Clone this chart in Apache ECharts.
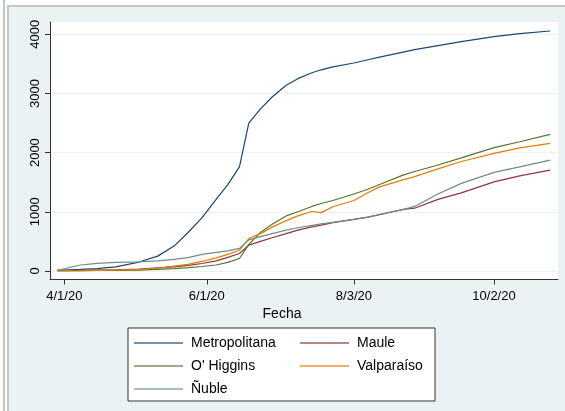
<!DOCTYPE html>
<html><head><meta charset="utf-8">
<script src="https://cdn.jsdelivr.net/npm/echarts@6/dist/echarts.min.js"></script>
<style>html,body{margin:0;padding:0;background:#fff}#c{width:565px;height:411px}</style>
</head><body><div id="c"></div><script>
// ---- data ----
const dates = ['2020-03-29','2020-04-08','2020-04-15','2020-04-23','2020-05-03','2020-05-11','2020-05-18','2020-05-24','2020-05-30','2020-06-05','2020-06-10','2020-06-15','2020-06-19','2020-06-24','2020-06-29','2020-07-05','2020-07-10','2020-07-16','2020-07-20','2020-07-25','2020-08-03','2020-08-09','2020-08-14','2020-08-24','2020-08-29','2020-09-08','2020-09-18','2020-10-02','2020-10-13','2020-10-26'];
const metropolitana = [10,25,40,68,150,250,420,650,900,1210,1460,1760,2500,2740,2940,3140,3250,3350,3400,3450,3515,3570,3615,3700,3740,3810,3875,3960,4010,4056];
const maule = [5,8,12,18,29,50,68,95,125,170,230,294,435,500,560,630,690,745,775,815,870,910,950,1040,1060,1210,1320,1506,1607,1704];
const ohiggins = [3,5,8,10,12,25,40,55,75,100,145,210,450,650,790,930,1000,1090,1140,1190,1300,1380,1460,1620,1680,1790,1910,2085,2183,2308];
const valparaiso = [3,5,10,15,25,45,80,110,160,220,280,350,548,630,740,850,930,1005,985,1085,1190,1320,1421,1540,1595,1725,1850,1986,2081,2156];
const nuble = [12,100,128,145,152,170,195,225,280,315,340,380,525,580,630,690,730,770,795,820,870,910,955,1035,1090,1300,1480,1665,1760,1873];
const seriesNames = ['Metropolitana','Maule',"O' Higgins",'Valparaíso','Ñuble'];
const xTickDates = ['2020-04-01','2020-06-01','2020-08-03','2020-10-02'];
const xTickLabels = ['4/1/20','6/1/20','8/3/20','10/2/20'];
const yTicks = [0,1000,2000,3000,4000];

// ---- helpers ----
function dayOf(s){ const p=s.split('-').map(Number); return (Date.UTC(p[0],p[1]-1,p[2]) - Date.UTC(2020,3,1))/864e5; }
const xTickDays = xTickDates.map(dayOf);
const colors = ['#1A476F','#90353B','#55752F','#E37E00','#6E8E84'];
const valuesList = [metropolitana, maule, ohiggins, valparaiso, nuble];
const FONT = "'Liberation Sans', Arial, sans-serif";
const col2 = new Set(['Maule','Valparaíso']);

const chart = echarts.init(document.getElementById('c'), null, {renderer:'canvas'});
chart.setOption({
  animation:false,
  backgroundColor:'#EAF2F3',
  textStyle:{fontFamily:FONT},
  graphic:[
    {type:'rect', shape:{x:0,y:0,width:7,height:411}, style:{fill:'#ffffff'}, silent:true},
    {type:'rect', shape:{x:0,y:0,width:565,height:5}, style:{fill:'#ffffff'}, silent:true},
    {type:'rect', shape:{x:3,y:0,width:2,height:411}, style:{fill:'#c6c6c6'}, silent:true},
    {type:'rect', shape:{x:7,y:5,width:2,height:406}, style:{fill:'#c6c6c6'}, silent:true},
    {type:'rect', shape:{x:7,y:5,width:558,height:2}, style:{fill:'#c6c6c6'}, silent:true}
  ],
  grid:{left:50,right:7,top:22,bottom:131.5,show:true,backgroundColor:'#ffffff',borderWidth:0,containLabel:false},
  xAxis:{
    type:'value', min:-6.12, max:211.4,
    axisLine:{show:true,onZero:false,lineStyle:{color:'#333',width:1}},
    axisTick:{show:true,length:5,customValues:xTickDays,lineStyle:{color:'#333'}},
    axisLabel:{customValues:xTickDays, margin:10, fontSize:13, color:'#000', fontFamily:FONT,
      formatter:function(v){ const i=xTickDays.indexOf(v); return i>=0?xTickLabels[i]:''; }},
    splitLine:{show:false},
    name:'Fecha', nameLocation:'middle', nameGap:26,
    nameTextStyle:{fontSize:14,color:'#000',fontFamily:FONT,padding:[0,44,0,0]}
  },
  yAxis:{
    type:'value', min:-145, max:4208,
    axisLine:{show:true,onZero:false,lineStyle:{color:'#333',width:1}},
    axisTick:{show:true,length:5,customValues:yTicks,lineStyle:{color:'#333'}},
    axisLabel:{customValues:yTicks, rotate:90, margin:8, fontSize:13, color:'#000', fontFamily:FONT,
      formatter:function(v){ return String(v); }},
    splitLine:{show:true,lineStyle:{color:'#EAF2F3',width:1}}
  },
  legend:{
    left:128, top:328, width:300, orient:'horizontal',
    itemWidth:49, itemHeight:2, itemGap:9, icon:'rect',
    padding:[8,6,5,6], borderColor:'#333', borderWidth:1, backgroundColor:'#fff', borderRadius:0,
    itemStyle:{opacity:0.6},
    data:seriesNames,
    formatter:function(n){ return (col2.has(n)?'{w2|':'{w1|')+n+'}'; },
    textStyle:{fontSize:14,color:'#000',fontFamily:FONT,lineHeight:13,padding:[0,0,0,3],
      rich:{w1:{width:100,fontSize:14,lineHeight:13,fontFamily:FONT,color:'#000'},
            w2:{width:72,fontSize:14,lineHeight:13,fontFamily:FONT,color:'#000'}}}
  },
  series: seriesNames.map(function(n,k){
    return {name:n, type:'line', showSymbol:false, symbol:'none', color:colors[k],
      lineStyle:{width:1.2,color:colors[k]},
      data: dates.map(function(d,i){ return [dayOf(d), valuesList[k][i]]; })};
  })
});
</script></body></html>
